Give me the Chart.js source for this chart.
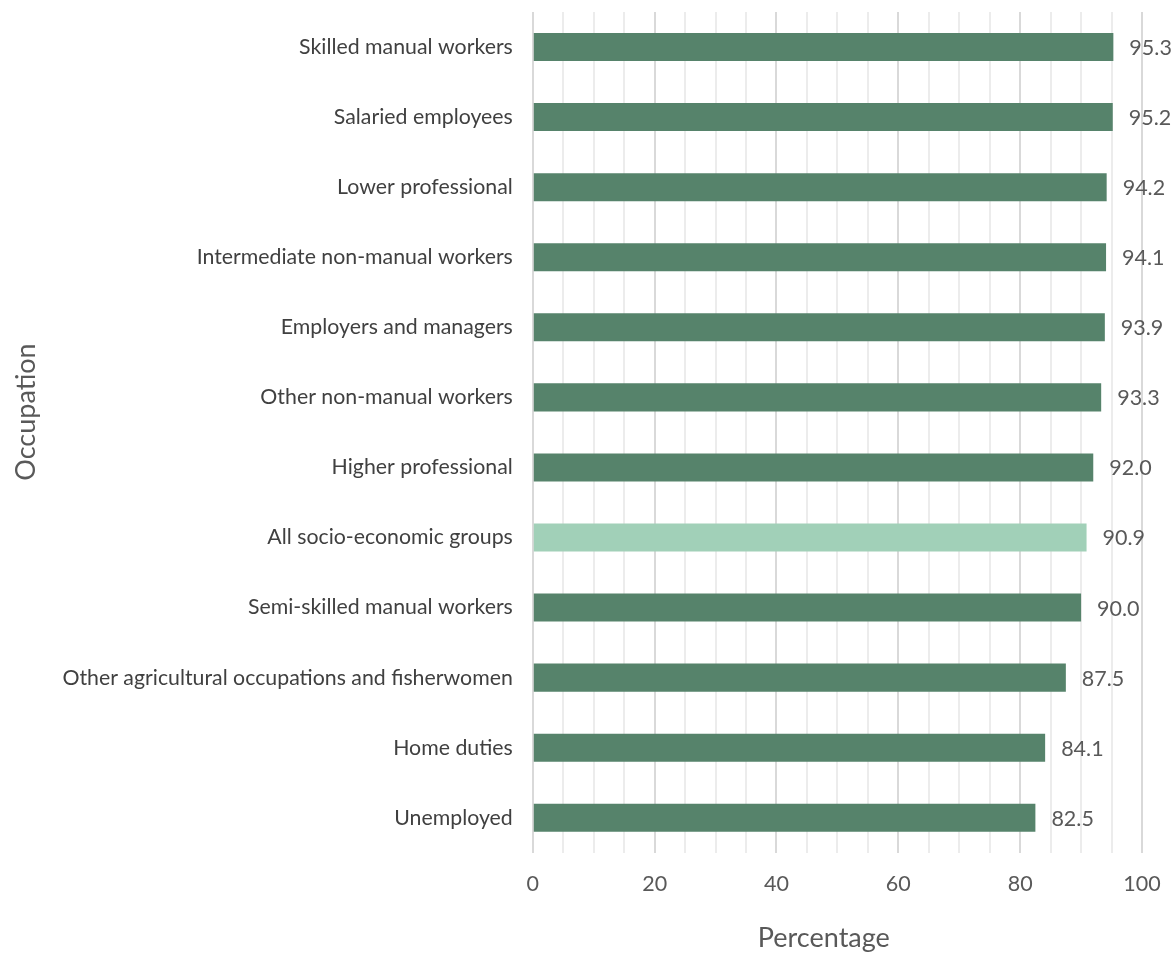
<!DOCTYPE html>
<html>
<head>
<meta charset="utf-8">
<script src="https://cdn.jsdelivr.net/npm/chart.js@4"></script>
<style>
  html, body { margin: 0; padding: 0; background: #fff; }
  #wrap { width: 1175px; height: 954px; }
</style>
</head>
<body>
<div id="wrap"><canvas id="chart"></canvas></div>
<script>
const occupations = [
  "Skilled manual workers",
  "Salaried employees",
  "Lower professional",
  "Intermediate non-manual workers",
  "Employers and managers",
  "Other non-manual workers",
  "Higher professional",
  "All socio-economic groups",
  "Semi-skilled manual workers",
  "Other agricultural occupations and fisherwomen",
  "Home duties",
  "Unemployed"
];
const percentages = [95.3, 95.2, 94.2, 94.1, 93.9, 93.3, 92.0, 90.9, 90.0, 87.5, 84.1, 82.5];
const totalGroup = "All socio-economic groups";

const barColor = "#56836b";
const totalColor = "#a1d0b8";

// value labels just past the end of each bar
const valueLabels = {
  id: "valueLabels",
  afterDatasetsDraw(chart) {
    const ctx = chart.ctx;
    const meta = chart.getDatasetMeta(0);
    ctx.save();
    ctx.font = "21.5px Lato";
    ctx.fillStyle = "#595959";
    ctx.textAlign = "left";
    ctx.textBaseline = "middle";
    meta.data.forEach((bar, i) => {
      ctx.fillText(percentages[i].toFixed(1), bar.x + 16, bar.y + 1);
    });
    ctx.restore();
  }
};

new Chart(document.getElementById("chart"), {
  type: "bar",
  data: {
    labels: occupations,
    datasets: [{
      data: percentages,
      backgroundColor: occupations.map(o => o === totalGroup ? totalColor : barColor),
      barPercentage: 0.4,
      categoryPercentage: 1
    }]
  },
  options: {
    indexAxis: "y",
    responsive: true,
    maintainAspectRatio: false,
    animation: false,
    layout: { padding: { top: 12, right: 33, bottom: 0, left: 10 } },
    plugins: {
      legend: { display: false },
      tooltip: { enabled: false }
    },
    scales: {
      x: {
        min: 0,
        max: 100,
        border: { display: false },
        grid: {
          drawTicks: false,
          lineWidth: 2,
          color: c => (c.tick.value % 20 === 0 ? "#d9d9d9" : "#ececec")
        },
        ticks: {
          stepSize: 5,
          autoSkip: false,
          maxRotation: 0,
          padding: 18,
          color: "#595959",
          font: { family: "Lato", size: 21.5 },
          callback: v => (v % 20 === 0 ? v : "")
        },
        title: {
          display: true,
          // trailing space nudges the title a little left of the axis centre
          text: "Percentage\u2003 ",
          color: "#595959",
          font: { family: "Lato", size: 27 },
          padding: { top: 7, bottom: 0 }
        },
        // let the layout padding alone decide the right edge
        afterFit: scale => { scale.paddingRight = 0; }
      },
      y: {
        border: { display: false },
        grid: { display: false, drawTicks: false },
        ticks: {
          padding: 20,
          color: "#404040",
          font: { family: "Lato", size: 21.3 }
        },
        title: {
          display: true,
          // leading space lifts the rotated title slightly
          text: "\u2003\u2002 Occupation",
          color: "#595959",
          font: { family: "Lato", size: 27 },
          padding: { top: 0, bottom: 0 }
        },
        afterFit: scale => { scale.paddingTop = 0; scale.paddingBottom = 0; }
      }
    }
  },
  plugins: [valueLabels]
});
</script>
</body>
</html>
